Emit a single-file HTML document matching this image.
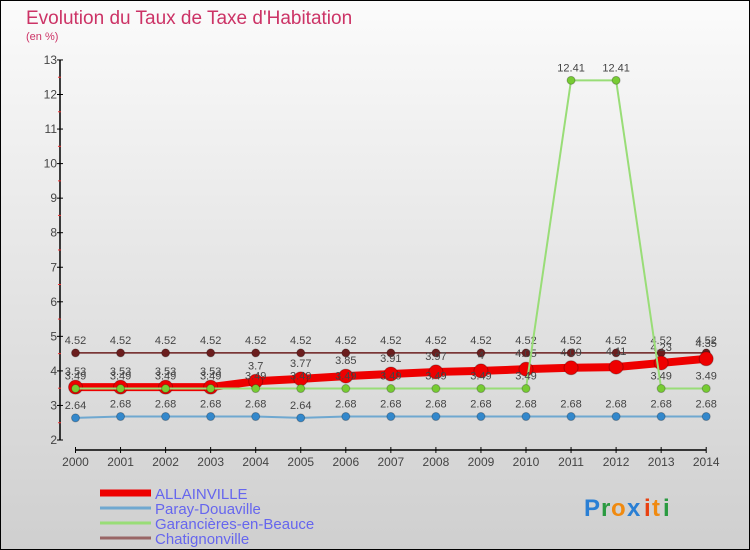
<!DOCTYPE html>
<html><head><meta charset="utf-8"><style>
body{margin:0;}
#wrap{width:750px;height:550px;position:relative;overflow:hidden;}
text{font-family:"Liberation Sans",sans-serif;}
</style></head><body>
<div id="wrap">
<svg id="chart" width="750" height="550" xmlns="http://www.w3.org/2000/svg">
<defs><linearGradient id="bg" x1="0" y1="0" x2="0" y2="1"><stop offset="0" stop-color="#fbfbfb"/><stop offset="1" stop-color="#cfcfcf"/></linearGradient></defs>
<rect x="0" y="0" width="750" height="550" fill="url(#bg)" stroke="#000" stroke-width="2"/>
<text x="26" y="24" font-size="19" fill="#cc3366">Evolution du Taux de Taxe d'Habitation</text>
<text x="26" y="40" font-size="11" fill="#cc3366">(en %)</text>
<g id="axes"></g>
<g id="series"></g>
<g id="legend"></g>
<g font-size="24" font-weight="bold">
<text x="584" y="516" fill="#2a7fd4">P</text><text x="601" y="516" fill="#2a9a40">r</text><text x="611" y="516" fill="#f08a10">o</text><text x="627" y="516" fill="#2a7fd4">x</text><text x="644" y="516" fill="#e84010">i</text><text x="652" y="516" fill="#f08a10">t</text><text x="663" y="516" fill="#2a9a40">i</text>
</g>
</svg>
</div>
<script>
const years=[2000,2001,2002,2003,2004,2005,2006,2007,2008,2009,2010,2011,2012,2013,2014];
const allainville=[3.53,3.53,3.53,3.53,3.7,3.77,3.85,3.91,3.97,4,4.05,4.09,4.11,4.23,4.35];
const paray=[2.64,2.68,2.68,2.68,2.68,2.64,2.68,2.68,2.68,2.68,2.68,2.68,2.68,2.68,2.68];
const garancieres=[3.49,3.49,3.49,3.49,3.49,3.49,3.49,3.49,3.49,3.49,3.49,12.41,12.41,3.49,3.49];
const chatignonville=[4.52,4.52,4.52,4.52,4.52,4.52,4.52,4.52,4.52,4.52,4.52,4.52,4.52,4.52,4.52];
const yTicks=[2,3,4,5,6,7,8,9,10,11,12,13];
const seriesNames=["ALLAINVILLE","Paray-Douaville","Garancières-en-Beauce","Chatignonville"];

const NS="http://www.w3.org/2000/svg";
const X=i=>75.5+i*45.05;
const Y=v=>440-(v-2)*34.55;
function mk(tag,attrs,parent){const e=document.createElementNS(NS,tag);for(const k in attrs)e.setAttribute(k,attrs[k]);parent.appendChild(e);return e;}
const axes=document.getElementById('axes'),ser=document.getElementById('series'),leg=document.getElementById('legend');

const ya=mk('line',{x1:60,y1:Y(13),x2:60,y2:Y(2),stroke:'#000','stroke-width':1.5},axes);


yTicks.forEach(t=>{
  mk('line',{x1:57,y1:Y(t),x2:63,y2:Y(t),stroke:'#000'},axes);
  if(t<13) mk('line',{x1:58,y1:Y(t+0.5),x2:61,y2:Y(t+0.5),stroke:'#e33'},axes);
  const tx=mk('text',{x:57,y:Y(t)+4,'font-size':12,fill:'#444','text-anchor':'end'},axes);
  tx.textContent=t;
  
  
});
const xa=mk('line',{x1:X(0),y1:450,x2:X(14),y2:450,stroke:'#000','stroke-width':1.5},axes);


years.forEach((y,i)=>{
  mk('line',{x1:X(i),y1:447,x2:X(i),y2:453,stroke:'#000'},axes);
  const tx=mk('text',{x:X(i),y:466,'font-size':12,fill:'#444','text-anchor':'middle'},axes);
  tx.textContent=y;
  
  
});

function fmt(v){return String(v);}
function drawSeries(vals,color,width,r,fill,name,labelDy){
  const g=mk('g',{},ser);
  
  
  const p=mk('polyline',{points:vals.map((v,i)=>X(i)+','+Y(v)).join(' '),fill:'none',stroke:color,'stroke-width':width},g);
  vals.forEach((v,i)=>{
    const c=mk('circle',{cx:X(i),cy:Y(v),r:r,fill:fill,stroke:'rgba(0,0,0,0.25)','stroke-width':1},g);
    
    
    const t=mk('text',{x:X(i),y:Y(v)+labelDy,'font-size':11,fill:'#444','text-anchor':'middle'},g);
    t.textContent=fmt(v);
    
    
  });
}
drawSeries(chatignonville,'#6b1e1e',1.5,4,'#6b1e1e','chatignonville-series',-9);
drawSeries(paray,'#6fa8d0',2,4,'#3388cc','paray-douaville-series',-9);
drawSeries(allainville,'#ee0000',8,7,'#ee0000','allainville-series',-12);
drawSeries(garancieres,'#99dd77',2,4,'#77cc33','garancieres-series',-9);

const legColors=['#ee0000','#6fa8d0','#99dd77','#996666'],legW=[7,3,3,3];
seriesNames.forEach((n,i)=>{
  const y=493+i*15;
  const g=mk('g',{},leg);
  
  
  mk('line',{x1:100,y1:y,x2:151,y2:y,stroke:legColors[i],'stroke-width':legW[i]},g);
  const t=mk('text',{x:155,y:y+6,'font-size':15,fill:'#6666ee'},g);
  t.textContent=n;
});
</script>
</body></html>
